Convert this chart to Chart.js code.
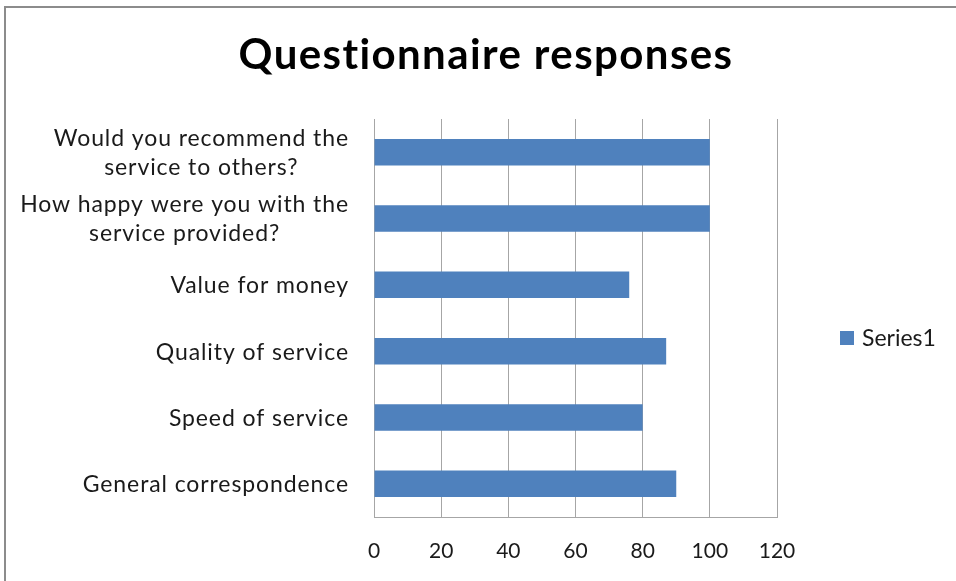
<!DOCTYPE html>
<html>
<head>
<meta charset="utf-8">
<script src="https://cdn.jsdelivr.net/npm/chart.js@4/dist/chart.umd.min.js"></script>
<style>
  html, body { margin: 0; padding: 0; background: #fff; overflow: hidden; }
  #frame { position: absolute; left: 4px; top: 6px; width: 970px; height: 590px;
           border-top: 2px solid #8c8c8c; border-left: 2px solid #8c8c8c; pointer-events: none; }
  #myChart { position: absolute; left: 0; top: 0; }
</style>
</head>
<body>
<canvas id="myChart" width="956" height="581"></canvas>
<div id="frame"></div>
<script>
// data
var categories = [
  ["Would you recommend the", "service to others?"],
  ["How happy were you with the", "service provided?"],
  ["Value for money"],
  ["Quality of service"],
  ["Speed of service"],
  ["General correspondence"]
]
var series1 = [100, 100, 76, 87, 80, 90]
var xTicks = [0, 20, 40, 60, 80, 100, 120]
var chartTitle = "Questionnaire responses"
var seriesName = "Series1"

var barColor = "#4F81BD"
var gridColor = "#a6a6a6"
var textColor = "#1a1a1a"
var fontFamily = "Lato, 'Open Sans', sans-serif"

// title, category labels and legend drawn by hand so they sit like Excel's
var excelText = {
  id: "excelText",
  afterDraw: function(chart) {
    var ctx = chart.ctx
    var yScale = chart.scales.y
    var area = chart.chartArea
    ctx.save()
    ctx.fillStyle = "#000"
    ctx.textAlign = "center"
    ctx.textBaseline = "alphabetic"
    ctx.font = "bold 42px " + fontFamily
    ctx.letterSpacing = "1.4px"
    ctx.fillText(chartTitle, 486, 69)

    ctx.textBaseline = "middle"
    ctx.font = "23px " + fontFamily
    ctx.letterSpacing = "0.9px"
    ctx.fillStyle = textColor
    var lineH = 29
    var rightEdge = area.left - 25
    for (let i = 0; i < categories.length; i++) {
      var lines = categories[i]
      var maxW = 0
      for (let j = 0; j < lines.length; j++) {
        maxW = Math.max(maxW, ctx.measureText(lines[j]).width)
      }
      var cy = yScale.getPixelForValue(i) + 1
      var cx = rightEdge - maxW / 2
      var y0 = cy - (lines.length - 1) * lineH / 2
      for (let j = 0; j < lines.length; j++) {
        ctx.fillText(lines[j], cx, y0 + j * lineH)
      }
    }

    // legend
    ctx.letterSpacing = "0px"
    ctx.fillStyle = barColor
    ctx.fillRect(840, 331, 14, 14)
    ctx.fillStyle = textColor
    ctx.textAlign = "left"
    ctx.fillText(seriesName, 862, 339)
    ctx.restore()
  }
}

var ctx = document.getElementById("myChart")
var myChart = new Chart(ctx, {
  type: "bar",
  data: {
    labels: categories.map(function(l) { return l.join(" ") }),
    datasets: [{
      label: seriesName,
      data: series1,
      backgroundColor: barColor,
      borderWidth: 0,
      barPercentage: 0.5,
      categoryPercentage: 0.8
    }]
  },
  options: {
    indexAxis: "y",
    responsive: false,
    animation: false,
    devicePixelRatio: 1,
    layout: { padding: { left: 0, top: 119, right: 179, bottom: 0 } },
    plugins: {
      legend: { display: false },
      title: { display: false },
      tooltip: { enabled: false }
    },
    scales: {
      x: {
        min: xTicks[0],
        max: xTicks[xTicks.length - 1],
        afterBuildTicks: function(scale) {
          scale.ticks = xTicks.map(function(v) { return { value: v } })
        },
        afterFit: function(scale) { scale.height = 64 },
        grid: { color: gridColor, lineWidth: 1, drawTicks: false },
        border: { display: true, color: gridColor },
        ticks: {
          padding: 22,
          color: textColor,
          font: { family: fontFamily, size: 21 }
        }
      },
      y: {
        afterFit: function(scale) { scale.width = 374 },
        grid: { display: false },
        border: { display: true, color: gridColor },
        ticks: { display: false }
      }
    }
  },
  plugins: [excelText]
})
</script>
</body>
</html>
